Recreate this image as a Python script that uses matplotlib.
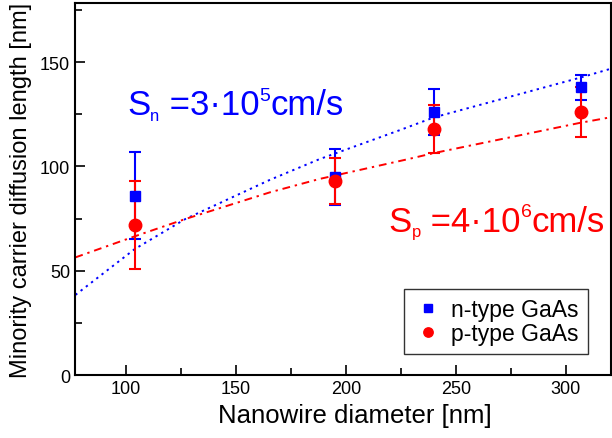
import numpy as np
import matplotlib
matplotlib.use("Agg")
import matplotlib.pyplot as plt
import matplotlib.transforms as mtransforms
from matplotlib.ticker import MultipleLocator

plt.rcParams['font.family'] = ['Liberation Sans', 'DejaVu Sans']

# measured points
diam = [104, 195, 240, 307]
n_len = [86, 95, 126, 138]
n_err = [21, 13.5, 11, 6]
p_len = [72, 93, 118, 126]
p_err = [21, 11, 11.5, 12]

# model curves
fit_n_x = [77, 104, 127, 165.5, 188, 224.5, 240, 307, 320]
fit_n_y = [38.4, 60.4, 74.8, 93.6, 103.5, 117.4, 123.5, 142.7, 146.7]
fit_p_x = [77, 104, 127, 165.5, 188, 227, 240, 306, 320]
fit_p_y = [56.4, 66.5, 74.8, 87.6, 94, 103.2, 106.4, 120.8, 123.5]

blue = '#0000ff'
red = '#ff0000'


def rich_text(ax, x, y, pieces, color):
    # pieces: (text, fontsize, baseline shift in points)
    fig = ax.figure
    r = fig.canvas.get_renderer()
    dx = 0.0
    for s, fs, dy in pieces:
        tr = mtransforms.offset_copy(ax.transData, fig=fig, x=dx, y=dy, units='points')
        t = ax.text(x, y, s, transform=tr, fontsize=fs, color=color,
                    va='baseline', ha='left')
        w = t.get_window_extent(renderer=r).width
        dx += w * 72.0 / fig.dpi


fig = plt.figure(figsize=(6.12, 4.39), dpi=100)
ax = fig.add_axes([0.1225, 0.1435, 0.8755, 0.8475])

ax.plot(fit_n_x, fit_n_y, color=blue, lw=1.4, ls=(0, (1.2, 2.2)))
ax.plot(fit_p_x, fit_p_y, color=red, lw=1.4, ls=(0, (4, 2.5, 1.2, 2.5)))

ax.errorbar(diam, n_len, yerr=n_err, fmt='s', color=blue, ms=7, capsize=4,
            elinewidth=1.5, capthick=1.5, label='n-type GaAs')
ax.errorbar(diam, p_len, yerr=p_err, fmt='o', color=red, ms=9, capsize=4,
            elinewidth=1.5, capthick=1.5, label='p-type GaAs')

ax.set_xlim(76.8, 320.5)
ax.set_ylim(0, 178.4)

rich_text(ax, 100.5, 125.1,
          [('S', 25, 0), ('n', 12, -4), (' =3·10', 25, 0), ('5', 14, 10.5), ('cm/s', 25, 0)],
          blue)
rich_text(ax, 219.5, 69.2,
          [('S', 25, 0), ('p', 12, -4), (' =4·10', 25, 0), ('6', 14, 10.5), ('cm/s', 25, 0)],
          red)

ax.xaxis.set_major_locator(MultipleLocator(50))
ax.xaxis.set_minor_locator(MultipleLocator(25))
ax.yaxis.set_major_locator(MultipleLocator(50))
ax.yaxis.set_minor_locator(MultipleLocator(25))
ax.tick_params(which='both', direction='in', labelsize=13, width=1.2)
ax.tick_params(which='major', length=7)
ax.tick_params(which='minor', length=5)
for s in ax.spines.values():
    s.set_linewidth(1.5)

ax.set_xlabel('Nanowire diameter [nm]', fontsize=18.5, labelpad=6)
ax.xaxis.set_label_coords(0.522, -0.075)
ax.set_ylabel('Minority carrier diffusion length [nm]', fontsize=17, labelpad=6)

h, l = ax.get_legend_handles_labels()
h = [x[0] for x in h]
leg = ax.legend(h, l, loc='lower right', bbox_to_anchor=(0.957, 0.056),
                borderaxespad=0, fontsize=16.5, frameon=True, fancybox=False,
                handlelength=1.29, markerscale=0.75, handletextpad=0.36,
                borderpad=0.4, labelspacing=0.05, edgecolor='black')
leg.get_frame().set_linewidth(1.0)

fig.savefig('out.png', dpi=100)
